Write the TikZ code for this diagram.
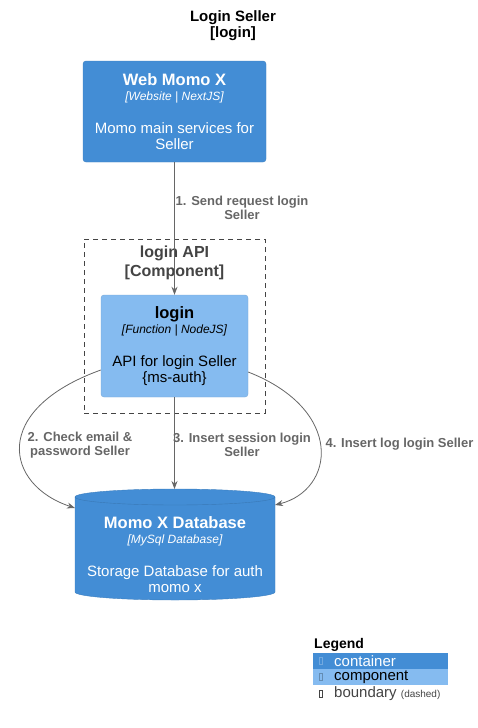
\documentclass[tikz,border=0pt]{standalone}
\usepackage{fontspec}
\setmainfont{Liberation Sans}
\usetikzlibrary{arrows.meta,calc}

\definecolor{containerblue}{HTML}{438DD5}
\definecolor{componentblue}{HTML}{85BBF0}
\definecolor{relgray}{HTML}{666666}
\definecolor{boundgray}{HTML}{444444}

\newcommand{\elemtext}[3]{{\fontsize{16.5}{18}\selectfont\bfseries #1}\\[-1pt]{\fontsize{12}{13}\selectfont\itshape [#2]}\\[17pt]#3}

\begin{document}
\begin{tikzpicture}[x=1pt, y=-1pt,
    every node/.style={font=\fontsize{15}{16}\selectfont, align=center},
    container/.style={rectangle, rounded corners=3pt, fill=containerblue, draw=containerblue!90!black, line width=0.4pt, text=white, inner sep=0pt},
    component/.style={rectangle, rounded corners=3pt, fill=componentblue, draw=componentblue!90!black, line width=0.4pt, text=black, inner sep=0pt},
    boundary/.style={rectangle, draw=boundgray, dash pattern=on 5pt off 4pt, line width=0.8pt, inner sep=0pt},
    rel/.style={draw=relgray, line width=0.8pt, -{Stealth[length=8pt,width=6pt]}},
    rellabel/.style={text=relgray, font=\fontsize{13}{14}\selectfont\bfseries}]
    \useasboundingbox (0,0) rectangle (478,728);
    % title
    \node (title) [font=\fontsize{15}{16}\selectfont\bfseries] at (233,26) {Login Seller\\{[login]}};
    % boundary
    \node (api) [boundary, minimum width=181pt, minimum height=174pt] at (174.5,326) {};
    \node (apilabel) [text=boundgray, font=\fontsize{16}{19}\selectfont\bfseries] at (174.5,262.5) {login API\\{[Component]}};
    % elements
    \node (web) [container, minimum width=183pt, minimum height=101pt] at (174.5,111.5)
        {\elemtext{Web Momo X}{Website | NextJS}{Momo main services for\\Seller}};
    \node (login) [component, minimum width=147pt, minimum height=102pt] at (174.5,346)
        {\elemtext{login}{Function | NodeJS}{API for login Seller\\\{ms-auth\}}};
    % database cylinder
    \fill[containerblue, draw=containerblue!90!black, line width=0.4pt] (75,497) -- (75,592)
        arc[start angle=180, end angle=0, x radius=100, y radius=8] -- (275,497)
        arc[start angle=0, end angle=-180, x radius=100, y radius=8] -- cycle;
    \draw[containerblue!85!black, line width=0.4pt] (75,497) arc[start angle=180, end angle=0, x radius=100, y radius=8];
    \node (db) [text=white] at (175,555)
        {\elemtext{Momo X Database}{MySql Database}{Storage Database for auth\\momo x}};
    \coordinate (dbtop) at (174.5,489);
    \coordinate (dbleft) at (75,508);
    \coordinate (dbright) at (275,505);
    % relations
    \draw[rel] (web) -- (login);
    \draw[rel] ($(login.west)+(0,24)$) .. controls (-10,410) and (5,485) .. (dbleft);
    \draw[rel] (login.south) -- (dbtop);
    \draw[rel] ($(login.east)+(0,26)$) .. controls (345,410) and (335,490) .. (dbright);
    \node (l1) [rellabel] at (242,208) {1. Send request login\\Seller};
    \node (l2) [rellabel] at (80,445) {2. Check email \&\\password Seller};
    \node (l3) [rellabel] at (242,445) {3. Insert session login\\Seller};
    \node (l4) [rellabel, anchor=west] at (322,444) {4. Insert log login Seller};
    % legend
    \node (legend) [anchor=west, inner sep=0pt, font=\fontsize{14}{15}\selectfont\bfseries] at (314,645) {Legend};
    \node (legcont) [fill=containerblue, minimum width=135pt, minimum height=16pt, inner sep=0pt] at (380.5,661) {};
    \node (legcomp) [fill=componentblue, minimum width=135pt, minimum height=16pt, inner sep=0pt] at (380.5,677) {};
    \foreach \y/\name/\col in {661/container/white, 677/component/black} {
        \node (g\name) [draw=\col, opacity=0.25, line width=0.5pt, minimum width=3pt, minimum height=7pt, inner sep=0pt] at (321,\y) {};
        \node (t\name) [anchor=west, inner sep=0pt, text=\col] at (334,\y) {\name};
    }
    \node (gbound) [draw=boundgray, line width=0.6pt, minimum width=3pt, minimum height=7pt, inner sep=0pt] at (321,694) {};
    \node (tbound) [anchor=west, inner sep=0pt, text=boundgray] at (334,694) {boundary {\fontsize{10}{12}\selectfont(dashed)}};
\end{tikzpicture}
\end{document}
